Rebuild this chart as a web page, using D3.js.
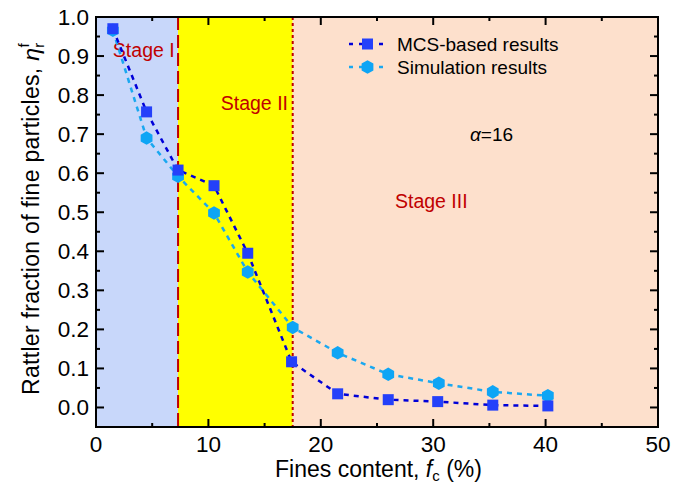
<!DOCTYPE html>
<html><head><meta charset="utf-8">
<script src="https://cdn.jsdelivr.net/npm/d3@7"></script>
<style>body{margin:0;background:#fff;} svg{display:block;font-family:"Liberation Sans",Arial,sans-serif;}</style>
</head><body>
<svg id="c" width="685" height="485"></svg>
<script>
const fines = [1.5, 4.5, 7.3, 10.5, 13.5, 17.4, 21.5, 26.0, 30.4, 35.3, 40.2];
const simFines = [1.5, 4.5, 7.3, 10.5, 13.5, 17.5, 21.5, 26.0, 30.5, 35.3, 40.2];
const mcs = [0.97, 0.757, 0.608, 0.568, 0.395, 0.117, 0.035, 0.02, 0.015, 0.006, 0.004];
const sim = [0.966, 0.69, 0.592, 0.498, 0.347, 0.205, 0.14, 0.085, 0.062, 0.04, 0.03];
const stages = [{x0:0, x1:7.3, color:"#c8d7fa", label:"Stage I", lx:1.5, ly:0.898},
                {x0:7.3, x1:17.5, color:"#ffff00", label:"Stage II", lx:11.1, ly:0.762},
                {x0:17.5, x1:50, color:"#fde0cc", label:"Stage III", lx:26.6, ly:0.511}];
const xTicks = [0,10,20,30,40,50];
const yTicks = [0,0.1,0.2,0.3,0.4,0.5,0.6,0.7,0.8,0.9,1.0];

const svg = d3.select("#c");
const L=96, R=658, T=17, B=427;
const x = d3.scaleLinear().domain([0,50]).range([L,R]);
const y = d3.scaleLinear().domain([-0.05,1.0]).range([B,T]);

svg.selectAll("rect.bg").data(stages).enter().append("rect")
  .attr("x",d=>x(d.x0)).attr("width",d=>x(d.x1)-x(d.x0))
  .attr("y",T).attr("height",B-T).attr("fill",d=>d.color);

svg.append("line").attr("x1",x(7.3)).attr("x2",x(7.3)).attr("y1",T).attr("y2",B)
  .attr("stroke","#c00000").attr("stroke-width",2).attr("stroke-dasharray","13,5");
svg.append("line").attr("x1",x(17.5)).attr("x2",x(17.5)).attr("y1",T).attr("y2",B)
  .attr("stroke","#c00000").attr("stroke-width",2).attr("stroke-dasharray","3,3");

svg.selectAll("text.stage").data(stages).enter().append("text")
  .attr("x",d=>x(d.lx)).attr("y",d=>y(d.ly)).attr("fill","#c00000")
  .attr("font-size",19.5).text(d=>d.label);

svg.append("text").attr("x",470).attr("y",141).attr("font-size",19).attr("fill","#000")
  .html('<tspan font-style="italic">α</tspan>=16');

const mcsPts = fines.map((f,i)=>[f,mcs[i]]);
const simPts = simFines.map((f,i)=>[f,sim[i]]);
const line = d3.line().x(d=>x(d[0])).y(d=>y(d[1]));
const mcsCol="#2440fa", mcsLine="#0000d8", simCol="#0ea5f5", simLine="#1aa8f0";
svg.append("path").attr("d",line(simPts)).attr("fill","none").attr("stroke",simLine)
  .attr("stroke-width",2.5).attr("stroke-dasharray","5,5");
svg.append("path").attr("d",line(mcsPts)).attr("fill","none").attr("stroke",mcsLine)
  .attr("stroke-width",2.5).attr("stroke-dasharray","5,5");

const hex = r => { const p=[]; for(let k=0;k<6;k++){const a=Math.PI/6+k*Math.PI/3; p.push([r*Math.cos(a),r*Math.sin(a)]);} return "M"+p.map(q=>q.join(",")).join("L")+"Z"; };
svg.selectAll("path.sim").data(simPts).enter().append("path")
  .attr("d",hex(6.8)).attr("transform",d=>`translate(${x(d[0])},${y(d[1])})`).attr("fill",simCol);
svg.selectAll("rect.mcs").data(mcsPts).enter().append("rect")
  .attr("x",d=>x(d[0])-5.5).attr("y",d=>y(d[1])-5.5).attr("width",11).attr("height",11).attr("fill",mcsCol);

svg.append("rect").attr("x",L).attr("y",T).attr("width",R-L).attr("height",B-T)
  .attr("fill","none").attr("stroke","#000").attr("stroke-width",2);

const xMinor = d3.range(5,50,10);
const yMinor = d3.range(-0.05,1.0,0.1).map(v=>+v.toFixed(2));
const g = svg.append("g").attr("stroke","#000").attr("stroke-width",2);
xTicks.forEach(v=>{ g.append("line").attr("x1",x(v)).attr("x2",x(v)).attr("y1",B).attr("y2",B-8);
  g.append("line").attr("x1",x(v)).attr("x2",x(v)).attr("y1",T).attr("y2",T+8); });
xMinor.forEach(v=>{ g.append("line").attr("x1",x(v)).attr("x2",x(v)).attr("y1",B).attr("y2",B-4);
  g.append("line").attr("x1",x(v)).attr("x2",x(v)).attr("y1",T).attr("y2",T+4); });
yTicks.forEach(v=>{ g.append("line").attr("x1",L).attr("x2",L+8).attr("y1",y(v)).attr("y2",y(v));
  g.append("line").attr("x1",R).attr("x2",R-8).attr("y1",y(v)).attr("y2",y(v)); });
yMinor.forEach(v=>{ g.append("line").attr("x1",L).attr("x2",L+4).attr("y1",y(v)).attr("y2",y(v));
  g.append("line").attr("x1",R).attr("x2",R-4).attr("y1",y(v)).attr("y2",y(v)); });

svg.selectAll("text.xt").data(xTicks).enter().append("text")
  .attr("x",d=>x(d)).attr("y",B+25).attr("text-anchor","middle").attr("font-size",22.5).text(d=>d);
svg.selectAll("text.yt").data(yTicks).enter().append("text")
  .attr("x",L-7).attr("y",d=>y(d)+7.5).attr("text-anchor","end").attr("font-size",22.5).text(d=>d.toFixed(1));

svg.append("text").attr("x",275).attr("y",477).attr("text-anchor","start").attr("font-size",23)
  .html('Fines content, <tspan font-style="italic">f</tspan><tspan font-size="15" dy="4">c</tspan><tspan dy="-4"> (%)</tspan>');
svg.append("text").attr("transform","translate(39,395) rotate(-90)").attr("text-anchor","start").attr("font-size",23)
  .attr("letter-spacing",0.3)
  .html('Rattler fraction of fine particles, <tspan font-style="italic">η</tspan><tspan font-size="15" dy="5">r</tspan><tspan font-size="15" dx="-5" dy="-15">f</tspan>');

const leg = [{y:44,label:"MCS-based results",line:mcsLine,col:mcsCol,sq:true},
             {y:67,label:"Simulation results",line:simLine,col:simCol,sq:false}];
leg.forEach(d=>{
  svg.append("line").attr("x1",348).attr("x2",388).attr("y1",d.y).attr("y2",d.y)
    .attr("stroke",d.line).attr("stroke-width",2.5).attr("stroke-dasharray","4,6").attr("stroke-dashoffset",-1);
  if(d.sq) svg.append("rect").attr("x",362).attr("y",d.y-5.5).attr("width",11).attr("height",11).attr("fill",d.col);
  else svg.append("path").attr("d",hex(6.8)).attr("transform",`translate(367.5,${d.y})`).attr("fill",d.col);
  svg.append("text").attr("x",397).attr("y",d.y+7).attr("font-size",19).text(d.label);
});
</script>
</body></html>
